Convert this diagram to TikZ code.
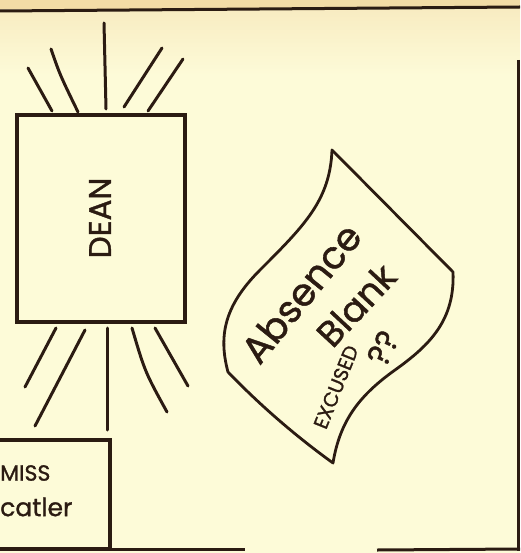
\documentclass[tikz,border=0pt]{standalone}
\usepackage{fontspec}
\setsansfont{Poppins}[FakeBold=1.2, AutoFakeBold=1.2]
\usetikzlibrary{positioning}
\definecolor{paper}{HTML}{FDFBD8}
\definecolor{tanband}{HTML}{F3DCA6}
\definecolor{warm}{HTML}{F8ECC2}
\definecolor{ink}{HTML}{2B1B12}
\tikzset{
  box/.style={draw=ink, line width=3.2pt, inner sep=0pt},
  ray/.style={draw=ink, line width=3pt, line cap=round},
  rule/.style={draw=ink, line width=3pt},
  sheet/.style={draw=ink, line width=2.8pt, line join=round},
  hand/.style={text=ink, inner sep=0pt}
}
\newcommand{\handfont}[1]{\sffamily\fontsize{#1}{#1}\selectfont}

\begin{document}
\begin{tikzpicture}[x=1pt,y=-1pt]
\useasboundingbox (0,0) rectangle (520,553);
\clip (0,0) rectangle (520,553);
% paper tone
\fill[paper] (0,0) rectangle (520,553);
\fill[tanband] (0,0) rectangle (520,10);
\shade[top color=warm, bottom color=paper] (0,10) rectangle (520,75);
% page rules
\draw[rule] (0,11) -- (520,7);
\draw[rule] (518,60) -- (518,551);
\draw[rule] (0,549) -- (245,549);
\draw[rule] (377,550) -- (520,549);
% the dean
\node[box, minimum width=168pt, minimum height=207pt] (dean) at (101,218.5) {};
\node[hand, rotate=90, font=\handfont{31}] (deanlabel) at (100,218) {DEAN};
% rays above
\draw[ray] (28,68) -- (52,111);
\draw[ray] (51,49) .. controls (60,75) .. (78,112);
\draw[ray] (104,23) -- (106,109);
\draw[ray] (162,48) -- (124,107);
\draw[ray] (183,59) -- (148,111);
% rays below
\draw[ray] (56,328) -- (25,387);
\draw[ray] (85,330) -- (35,426);
\draw[ray] (107,328) -- (107,430);
\draw[ray] (132,328) .. controls (145,372) .. (167,412);
\draw[ray] (155,328) -- (188,386);
% miss statler
\node[box, minimum width=130pt, minimum height=109pt] (miss) at (45,494.5) {};
\node[hand, anchor=west, font=\handfont{22}] (misslabel) at (0,473) {MISS};
\node[hand, anchor=west, font=\handfont{25}] (namelabel) at (0,507) {catler};
% absence blank
\draw[sheet] (332,150) -- (453,272)
  .. controls (455,320) and (430,345) .. (395,370)
  .. controls (360,395) and (340,420) .. (333,463)
  .. controls (290,432) and (255,400) .. (228,372)
  .. controls (218,335) and (225,305) .. (260,270)
  .. controls (305,225) and (330,200) .. cycle;
\node[hand, rotate=51, font=\handfont{38}] (absence) at (301,293) {Absence};
\node[hand, rotate=47, font=\handfont{36}] (blankword) at (356,305) {Blank};
\node[hand, rotate=68, font=\handfont{20}] (excused) at (336,387) {EXCUSED};
\node[hand, rotate=64, font=\handfont{32}] (qmarks) at (383,348) {??};
\end{tikzpicture}
\end{document}
